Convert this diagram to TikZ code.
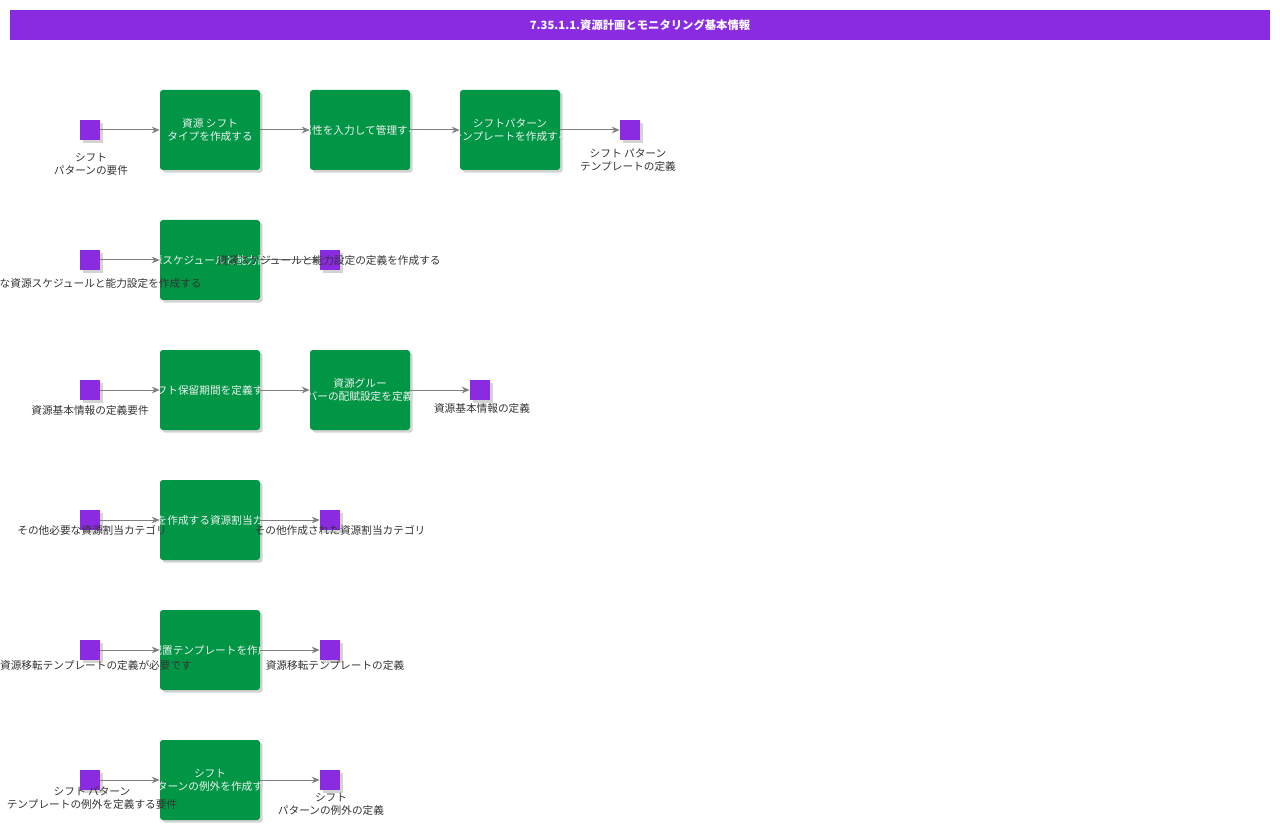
\documentclass[tikz,border=0pt]{standalone}
\usepackage{fontspec}
\setmainfont{Noto Sans CJK JP}
\usetikzlibrary{positioning,shadows,arrows.meta}
\definecolor{titlepurple}{HTML}{8A2BE2}
\definecolor{procgreen}{HTML}{009645}
\definecolor{labelgray}{HTML}{333333}
\tikzset{
  proc/.style={draw=none, fill=procgreen, rounded corners=2.2pt, minimum width=75pt, minimum height=60pt,
    drop shadow={shadow xshift=2pt, shadow yshift=-2pt, opacity=0.35}},
  ioport/.style={draw=none, fill=titlepurple, minimum size=15pt, inner sep=0pt,
    drop shadow={shadow xshift=2pt, shadow yshift=-2pt, opacity=0.35}},
  proctext/.style={text=white!88!gray, font=\fontsize{8}{9.5}\selectfont, align=center, inner sep=0pt},
  iolabel/.style={text=labelgray, font=\fontsize{8}{9.5}\selectfont, align=center, inner sep=0pt},
  flow/.style={draw=gray, line width=0.75pt, -{Stealth[length=6pt,width=5pt]}}
}
% box with clipped text
\newcommand{\procbox}[3]{%
  \node[proc] (#1) at (#2) {};
  \begin{scope}
    \clip (#1.south west) rectangle (#1.north east);
    \node[proctext] at (#1) {#3};
  \end{scope}}
\begin{document}
\begin{tikzpicture}[x=0.75pt,y=-0.75pt]
  \useasboundingbox (0,0) rectangle (1280,830);
  % title
  \node[fill=titlepurple, minimum width=945pt, minimum height=22.5pt, text=white,
    font=\bfseries\fontsize{8.5}{10}\selectfont] (title) at (640,25) {7.35.1.1.資源計画とモニタリング基本情報};

  % row 1
  \node[ioport] (in1) at (90,130) {};
  \procbox{p11}{210,130}{資源 シフト\\タイプを作成する}
  \procbox{p12}{360,130}{属性を入力して管理する}
  \procbox{p13}{510,130}{シフトパターン\\テンプレートを作成する}
  \node[ioport] (out1) at (630,130) {};
  \node[iolabel] (lin1) at (91,164) {シフト\\パターンの要件};
  \node[iolabel] (lout1) at (628,160) {シフト パターン\\テンプレートの定義};
  \draw[flow] (in1) -- (p11);
  \draw[flow] (p11) -- (p12);
  \draw[flow] (p12) -- (p13);
  \draw[flow] (p13) -- (out1);

  % row 2
  \node[ioport] (in2) at (90,260) {};
  \procbox{p21}{210,260}{資源スケジュールと能力設定}
  \node[ioport] (out2) at (330,260) {};
  \draw[flow] (in2) -- (p21);
  \draw[flow] (p21) -- (out2);
  \node[iolabel] (lin2) at (90,283) {必要な資源スケジュールと能力設定を作成する};
  \node[iolabel] (lout2) at (329,260) {資源スケジュールと能力設定の定義を作成する};

  % row 3
  \node[ioport] (in3) at (90,390) {};
  \procbox{p31}{210,390}{シフト保留期間を定義する}
  \procbox{p32}{360,390}{資源グルー\\メンバーの配賦設定を定義する}
  \node[ioport] (out3) at (480,390) {};
  \node[iolabel] (lin3) at (90,410) {資源基本情報の定義要件};
  \node[iolabel] (lout3) at (482,408) {資源基本情報の定義};
  \draw[flow] (in3) -- (p31);
  \draw[flow] (p31) -- (p32);
  \draw[flow] (p32) -- (out3);

  % row 4
  \node[ioport] (in4) at (90,520) {};
  \procbox{p41}{210,520}{その他を作成する資源割当カテゴリ}
  \node[ioport] (out4) at (330,520) {};
  \draw[flow] (in4) -- (p41);
  \draw[flow] (p41) -- (out4);
  \node[iolabel] (lin4) at (92,530) {その他必要な資源割当カテゴリ};
  \node[iolabel] (lout4) at (340,530) {その他作成された資源割当カテゴリ};

  % row 5
  \node[ioport] (in5) at (90,650) {};
  \procbox{p51}{210,650}{資源配置テンプレートを作成する}
  \node[ioport] (out5) at (330,650) {};
  \draw[flow] (in5) -- (p51);
  \draw[flow] (p51) -- (out5);
  \node[iolabel] (lin5) at (96,665) {資源移転テンプレートの定義が必要です};
  \node[iolabel] (lout5) at (335,665) {資源移転テンプレートの定義};

  % row 6
  \node[ioport] (in6) at (90,780) {};
  \procbox{p61}{210,780}{シフト\\パターンの例外を作成する}
  \node[ioport] (out6) at (330,780) {};
  \draw[flow] (in6) -- (p61);
  \draw[flow] (p61) -- (out6);
  \node[iolabel] (lin6) at (92,798) {シフト パターン\\テンプレートの例外を定義する要件};
  \node[iolabel] (lout6) at (331,804) {シフト\\パターンの例外の定義};
\end{tikzpicture}
\end{document}
